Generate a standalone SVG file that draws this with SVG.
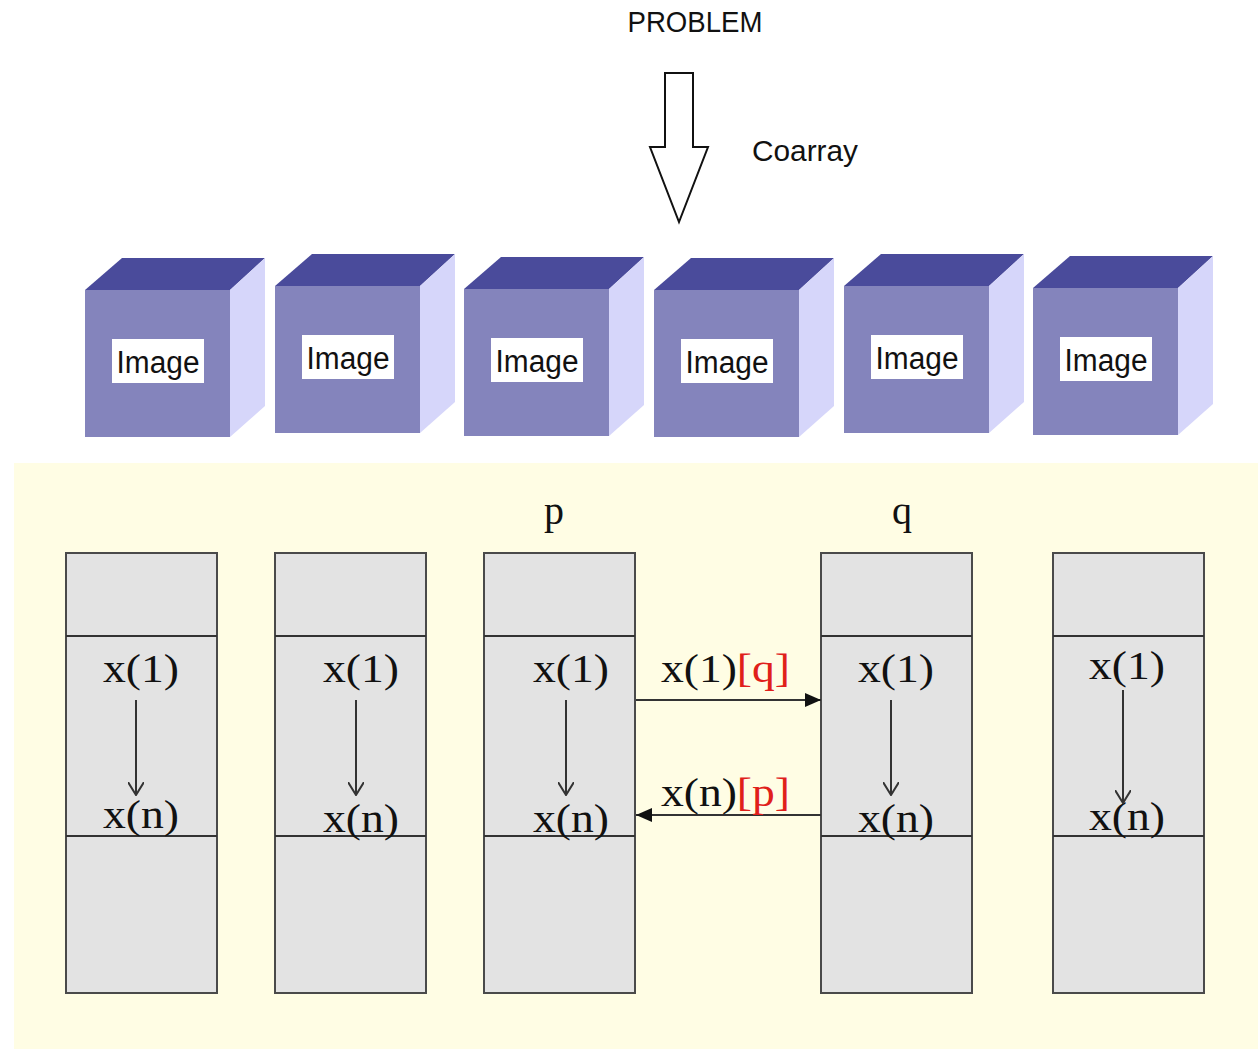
<svg xmlns="http://www.w3.org/2000/svg" width="1258" height="1049" viewBox="0 0 1258 1049">
<style>
.sans{font-family:"Liberation Sans","Open Sans",sans-serif;fill:#111}
.serif{font-family:"Liberation Serif","DejaVu Serif",serif;fill:#111;font-size:40px}
.red{fill:#e0201a}
.top{fill:#4a4b9b}
.front{fill:#8484bc}
.side{fill:#d6d6fa}
.lbl{fill:#fff}
.col{fill:#e3e3e3;stroke:#4a4a4a;stroke-width:2}
.ln{stroke:#333;stroke-width:2;fill:none}
</style>
<defs>
<marker id="open" viewBox="0 0 14 16" refX="13" refY="8" markerWidth="14" markerHeight="16" markerUnits="userSpaceOnUse" orient="auto">
<path d="M0,0 L13,8 L0,16" fill="none" stroke="#333" stroke-width="2"/>
</marker>
<marker id="solid" viewBox="0 0 16 14" refX="16" refY="7" markerWidth="16" markerHeight="14" markerUnits="userSpaceOnUse" orient="auto">
<path d="M0,0 L16,7 L0,14 Z" fill="#111"/>
</marker>
<g id="cube">
<polygon class="top" points="0,0 37,-32 180,-32 145,0"/>
<polygon class="side" points="145,0 180,-32 180,116 145,147"/>
<rect class="front" x="0" y="0" width="145" height="147"/>
<rect class="lbl" x="27" y="49" width="92" height="44"/>
<text class="sans" x="73" y="83" font-size="31" text-anchor="middle" textLength="83" lengthAdjust="spacingAndGlyphs">Image</text>
</g>
</defs>
<rect width="1258" height="1049" fill="#fff"/>
<g id="title">
<text class="sans" x="695" y="32" font-size="30" text-anchor="middle" textLength="135" lengthAdjust="spacingAndGlyphs">PROBLEM</text>
</g>
<g id="coarray-arrow">
<polygon points="665,73 693,73 693,147 708,147 679,222 650,147 665,147" fill="#fff" stroke="#111" stroke-width="2"/>
<text class="sans" x="752" y="161" font-size="30" textLength="106" lengthAdjust="spacingAndGlyphs">Coarray</text>
</g>
<g id="images">
<g id="img1"><use href="#cube" x="85" y="290"/></g>
<g id="img2"><use href="#cube" x="275" y="286"/></g>
<g id="img3"><use href="#cube" x="464" y="289"/></g>
<g id="img4"><use href="#cube" x="654" y="290"/></g>
<g id="img5"><use href="#cube" x="844" y="286"/></g>
<g id="img6"><use href="#cube" x="1033" y="288"/></g>
</g>
<rect id="panel" x="14" y="463" width="1244" height="586" fill="#fffde4"/>
<g id="labels-pq">
<text class="serif" x="554" y="524" text-anchor="middle">p</text>
<text class="serif" x="902" y="524" text-anchor="middle">q</text>
</g>
<g id="col1">
<rect class="col" x="66" y="553" width="151" height="440"/>
<line class="ln" x1="66" y1="636" x2="217" y2="636"/>
<line class="ln" x1="66" y1="836" x2="217" y2="836"/>
<text class="serif" x="141" y="682" text-anchor="middle" textLength="76" lengthAdjust="spacingAndGlyphs">x(1)</text>
<text class="serif" x="141" y="828" text-anchor="middle" textLength="76" lengthAdjust="spacingAndGlyphs">x(n)</text>
</g>
<g id="col2">
<rect class="col" x="275" y="553" width="151" height="440"/>
<line class="ln" x1="275" y1="636" x2="426" y2="636"/>
<line class="ln" x1="275" y1="836" x2="426" y2="836"/>
<text class="serif" x="361" y="682" text-anchor="middle" textLength="76" lengthAdjust="spacingAndGlyphs">x(1)</text>
<text class="serif" x="361" y="832" text-anchor="middle" textLength="76" lengthAdjust="spacingAndGlyphs">x(n)</text>
</g>
<g id="col3">
<rect class="col" x="484" y="553" width="151" height="440"/>
<line class="ln" x1="484" y1="636" x2="635" y2="636"/>
<line class="ln" x1="484" y1="836" x2="635" y2="836"/>
<text class="serif" x="571" y="682" text-anchor="middle" textLength="76" lengthAdjust="spacingAndGlyphs">x(1)</text>
<text class="serif" x="571" y="832" text-anchor="middle" textLength="76" lengthAdjust="spacingAndGlyphs">x(n)</text>
</g>
<g id="col4">
<rect class="col" x="821" y="553" width="151" height="440"/>
<line class="ln" x1="821" y1="636" x2="972" y2="636"/>
<line class="ln" x1="821" y1="836" x2="972" y2="836"/>
<text class="serif" x="896" y="682" text-anchor="middle" textLength="76" lengthAdjust="spacingAndGlyphs">x(1)</text>
<text class="serif" x="896" y="832" text-anchor="middle" textLength="76" lengthAdjust="spacingAndGlyphs">x(n)</text>
</g>
<g id="col5">
<rect class="col" x="1053" y="553" width="151" height="440"/>
<line class="ln" x1="1053" y1="636" x2="1204" y2="636"/>
<line class="ln" x1="1053" y1="836" x2="1204" y2="836"/>
<text class="serif" x="1127" y="679" text-anchor="middle" textLength="76" lengthAdjust="spacingAndGlyphs">x(1)</text>
<text class="serif" x="1127" y="830" text-anchor="middle" textLength="76" lengthAdjust="spacingAndGlyphs">x(n)</text>
</g>
<g id="connectors">
<line class="ln" x1="136" y1="700" x2="136" y2="795" marker-end="url(#open)"/>
<line class="ln" x1="356" y1="700" x2="356" y2="795" marker-end="url(#open)"/>
<line class="ln" x1="566" y1="700" x2="566" y2="795" marker-end="url(#open)"/>
<line class="ln" x1="891" y1="700" x2="891" y2="795" marker-end="url(#open)"/>
<line class="ln" x1="1123" y1="690" x2="1123" y2="803" marker-end="url(#open)"/>
<line class="ln" x1="636" y1="700" x2="821" y2="700" marker-end="url(#solid)"/>
<line class="ln" x1="821" y1="815" x2="636" y2="815" marker-end="url(#solid)"/>
<text class="serif" x="661" y="682" textLength="129" lengthAdjust="spacingAndGlyphs">x(1)<tspan class="red">[q]</tspan></text>
<text class="serif" x="661" y="806" textLength="129" lengthAdjust="spacingAndGlyphs">x(n)<tspan class="red">[p]</tspan></text>
</g>
</svg>
